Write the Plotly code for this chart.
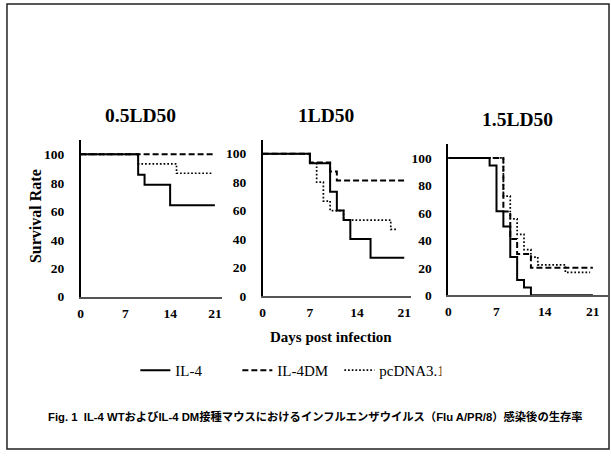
import plotly.graph_objects as go

W, H = 611, 461

# ---- data ----
panel_titles = ["0.5LD50", "1LD50", "1.5LD50"]
series_names = ["IL-4", "IL-4DM", "pcDNA3.1"]
x_ticks = [0, 7, 14, 21]
y_ticks = [0, 20, 40, 60, 80, 100]

il4_05_days = [0, 9, 10, 14, 21]
il4_05_vals = [100, 85.7, 78.6, 64.3, 64.3]
dm_05_days = [0, 21]
dm_05_vals = [100, 100]
pc_05_days = [0, 9, 15, 20.5]
pc_05_vals = [100, 93.3, 86.7, 86.7]

il4_1_days = [0, 7, 10, 11, 12, 13, 16, 21]
il4_1_vals = [100, 93.3, 73.3, 60, 53.3, 40, 26.7, 26.7]
dm_1_days = [0, 7, 10, 11, 21]
dm_1_vals = [100, 93.75, 87.5, 81.25, 81.25]
pc_1_days = [0, 7, 8, 9, 10, 12, 19, 20]
pc_1_vals = [100, 93.3, 80, 66.7, 60, 53.3, 46.7, 46.7]

il4_15_days = [0, 6, 7, 8, 9, 10, 11, 12, 21]
il4_15_vals = [100, 94.4, 61.1, 50, 27.8, 11.1, 5.6, 0, 0]
dm_15_days = [0, 8, 9, 10, 12, 21]
dm_15_vals = [100, 61, 41, 30, 20, 20]
pc_15_days = [0, 8, 9, 10, 11, 12, 13, 17, 20.6]
pc_15_vals = [100, 72.2, 55.6, 44.4, 33.3, 27.8, 22.2, 16.7, 16.7]

panels = [
    [(il4_05_days, il4_05_vals), (dm_05_days, dm_05_vals), (pc_05_days, pc_05_vals)],
    [(il4_1_days, il4_1_vals), (dm_1_days, dm_1_vals), (pc_1_days, pc_1_vals)],
    [(il4_15_days, il4_15_vals), (dm_15_days, dm_15_vals), (pc_15_days, pc_15_vals)],
]

# ---- layout geometry (px) ----
# (x_left, x_right, x_max, y_bottom, y_top)
geo = [
    (78, 220, 22.1, 302, 142.5),
    (261, 410, 22.0, 301, 142.0),
    (447.5, 608, 23.2, 300.5, 146.7),
]
title_pos = [(138, 118), (325, 118), (517, 122)]

styles = [
    dict(color="black", width=2, dash="solid"),
    dict(color="black", width=2, dash="6px,3px"),
    dict(color="black", width=1.7, dash="1.7px,2px"),
]

serif = "Liberation Serif, Times New Roman, serif"

fig = go.Figure()
layout = dict(
    width=W, height=H,
    margin=dict(l=0, r=0, t=0, b=0),
    paper_bgcolor="white", plot_bgcolor="white",
    showlegend=True,
)

for i, (series, g) in enumerate(zip(panels, geo)):
    xl, xr, xmax, yb, yt = g
    xa = "x" if i == 0 else f"x{i+1}"
    ya = "y" if i == 0 else f"y{i+1}"
    for j, (d, v) in enumerate(series):
        fig.add_trace(go.Scatter(
            x=d, y=v, mode="lines", line_shape="hv",
            line=styles[j], name=series_names[j],
            showlegend=(i == 0), xaxis=xa, yaxis=ya,
            hoverinfo="skip",
        ))
    xkey = "xaxis" if i == 0 else f"xaxis{i+1}"
    ykey = "yaxis" if i == 0 else f"yaxis{i+1}"
    layout[xkey] = dict(
        domain=[xl / W, xr / W], range=[0, xmax], anchor=ya,
        tickvals=x_ticks, showgrid=False, zeroline=False,
        showline=True, linecolor="#555", linewidth=1.5,
        ticks="", ticklabelstandoff=3,
        tickfont=dict(family=serif, size=13.5, color="black", weight="bold"),
    )
    layout[ykey] = dict(
        domain=[1 - yb / H, 1 - yt / H], range=[0, 110], anchor=xa,
        tickvals=y_ticks, showgrid=False, zeroline=False,
        showline=True, linecolor="black", linewidth=1.5,
        ticks="", ticklabelstandoff=12,
        tickfont=dict(family=serif, size=13.5, color="black", weight="bold"),
    )

annotations = []
for t, (cx, cy) in zip(panel_titles, title_pos):
    annotations.append(dict(
        text=t, x=cx / W, y=1 - cy / H, xref="paper", yref="paper",
        showarrow=False, xanchor="center", yanchor="middle",
        font=dict(family=serif, size=19.5, color="black", weight="bold"),
    ))
annotations.append(dict(
    text="Survival Rate", x=32 / W, y=1 - 220 / H, xref="paper", yref="paper",
    showarrow=False, textangle=-90, xanchor="center", yanchor="middle",
    font=dict(family=serif, size=16, color="black", weight="bold"),
))
annotations.append(dict(
    text="Days post infection", x=330 / W, y=1 - 343 / H, xref="paper", yref="paper",
    showarrow=False, xanchor="center", yanchor="middle",
    font=dict(family=serif, size=15, color="black", weight="bold"),
))
annotations.append(dict(
    text="Fig. 1  IL-4 WTおよびIL-4 DM接種マウスにおけるインフルエンザウイルス（Flu A/PR/8）感染後の生存率",
    x=43 / W, y=1 - 424 / H, xref="paper", yref="paper",
    showarrow=False, xanchor="left", yanchor="middle",
    font=dict(family="Liberation Sans, Arial, Noto Sans CJK JP, sans-serif", size=11.3, color="black", weight="bold"),
))
layout["annotations"] = annotations

layout["legend"] = dict(
    orientation="h", x=133 / W, y=1 - 377 / H, xanchor="left", yanchor="middle",
    font=dict(family=serif, size=15, color="black"),
    entrywidth=57, entrywidthmode="pixels",
    bgcolor="rgba(0,0,0,0)", itemclick=False, itemdoubleclick=False,
)

layout["shapes"] = [dict(
    type="rect", xref="paper", yref="paper",
    x0=4 / W, x1=609 / W, y0=1 - 457 / H, y1=1 - 4 / H,
    line=dict(color="#222", width=1.5), fillcolor="rgba(0,0,0,0)", layer="below",
)]

fig.update_layout(**layout)
fig.write_html("out.html")
